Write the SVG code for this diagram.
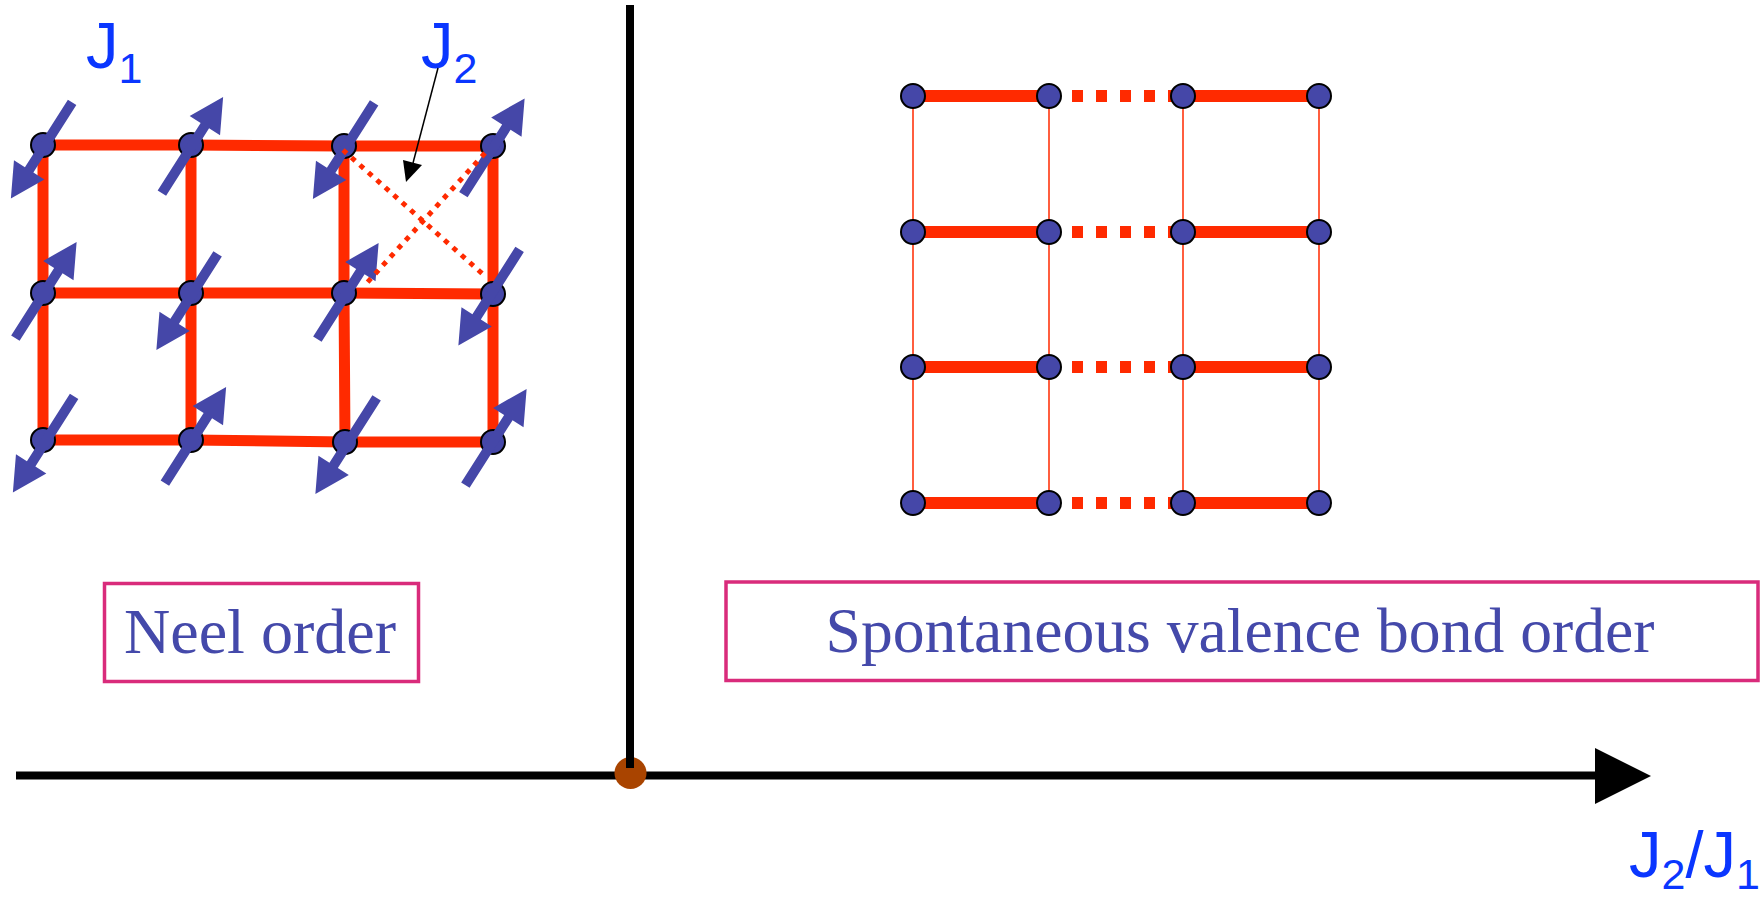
<svg xmlns="http://www.w3.org/2000/svg" xmlns:xlink="http://www.w3.org/1999/xlink" width="1764" height="898" viewBox="0 0 1764 898">
<style>
.bond{stroke:#FF2A00;stroke-width:11;fill:none}
.thick{stroke:#FF2A00;stroke-width:12;fill:none}
.thin{stroke:#FF2A00;stroke-width:1.5;fill:none}
.dash{stroke:#FF2A00;stroke-width:12;fill:none;stroke-dasharray:11 13}
.dot{stroke:#FF2A00;stroke-width:5;fill:none;stroke-dasharray:5 6.3}
.site{fill:#4547A8;stroke:#000;stroke-width:2}
.spin{fill:#4547A8}
.jl{font-family:"Liberation Sans",Arial,sans-serif;fill:#0A36FF;font-size:65px}
.box{fill:none;stroke:#D92B7B;stroke-width:3.5}
.lbl{font-family:"Liberation Serif","Times New Roman",serif;fill:#4449AA;font-size:64px}
.axis{stroke:#000;stroke-width:8;fill:none}
</style>
<defs>
<path id="spin" d="M-57,-5 H23 V-18 L57,0 L23,18 V5 H-57 Z"/>
</defs>
<rect width="1764" height="898" fill="#fff"/>

<g id="axes">
<line class="axis" x1="16" y1="775.5" x2="1597" y2="775.5"/>
<polygon points="1595,748 1651,776 1595,804" fill="#000"/>
<circle id="critical-point" cx="630.5" cy="773" r="16" fill="#A94400"/>
<line class="axis" x1="630" y1="5" x2="630" y2="768"/>
</g>

<g id="neel-bonds">
<path class="bond" d="M43,145 L191,145 L344,146 L493,146"/>
<path class="bond" d="M43,293 L191,293 L344,293 L493,294"/>
<path class="bond" d="M43,440 L191,440 L345,442 L493,442"/>
<path class="bond" d="M43,145 V440"/>
<path class="bond" d="M191,145 V440"/>
<path class="bond" d="M344,146 L344,293 L345,442"/>
<path class="bond" d="M493,146 L493,294 L493,442"/>
</g>

<g id="neel-sites">
<g id="n11"><circle class="site" cx="43" cy="145" r="12"/><use href="#spin" class="spin" transform="translate(41.5,150.5) rotate(122.5)"/></g>
<g id="n12"><circle class="site" cx="191" cy="145" r="12"/><use href="#spin" class="spin" transform="translate(192.5,145) rotate(-57.5)"/></g>
<g id="n13"><circle class="site" cx="344" cy="146" r="12"/><use href="#spin" class="spin" transform="translate(343.5,151) rotate(122.5)"/></g>
<g id="n14"><circle class="site" cx="493" cy="146" r="12"/><use href="#spin" class="spin" transform="translate(494,146.5) rotate(-57.5)"/></g>
<g id="n21"><circle class="site" cx="43" cy="293" r="12"/><use href="#spin" class="spin" transform="translate(46,290) rotate(-57.5)"/></g>
<g id="n22"><circle class="site" cx="191" cy="293" r="12"/><use href="#spin" class="spin" transform="translate(187,302) rotate(122.5)"/></g>
<g id="n23"><circle class="site" cx="344" cy="293" r="12"/><use href="#spin" class="spin" transform="translate(348,291) rotate(-57.5)"/></g>
<g id="n24"><circle class="site" cx="493" cy="294" r="12"/><use href="#spin" class="spin" transform="translate(489,297.5) rotate(122.5)"/></g>
<g id="n31"><circle class="site" cx="43" cy="440" r="12"/><use href="#spin" class="spin" transform="translate(43.5,444.5) rotate(122.5)"/></g>
<g id="n32"><circle class="site" cx="191" cy="440" r="12"/><use href="#spin" class="spin" transform="translate(195.5,435) rotate(-57.5)"/></g>
<g id="n33"><circle class="site" cx="345" cy="442" r="12"/><use href="#spin" class="spin" transform="translate(346,446) rotate(122.5)"/></g>
<g id="n34"><circle class="site" cx="493" cy="442" r="12"/><use href="#spin" class="spin" transform="translate(496,437) rotate(-57.5)"/></g>
</g>

<g id="j2-bonds">
<line class="dot" x1="343" y1="150" x2="485" y2="276"/>
<line class="dot" x1="485" y1="153" x2="365" y2="285"/>
</g>

<g id="label-j1"><text class="jl" x="86" y="68">J<tspan font-size="43" dy="15">1</tspan></text></g>
<g id="label-j2">
<text class="jl" x="421" y="68">J<tspan font-size="43" dy="15">2</tspan></text>
<line x1="438" y1="68" x2="413" y2="163" stroke="#000" stroke-width="1.5"/>
<polygon points="406,182 403,160 422,165" fill="#000"/>
</g>

<g id="vbs-bonds">
<path class="thin" d="M913,96 V503 M1049,96 V503 M1183,96 V503 M1319,96 V503"/>
<path class="thick" d="M913,96 H1049 M1183,96 H1319 M913,232 H1049 M1183,232 H1319 M913,367 H1049 M1183,367 H1319 M913,503 H1049 M1183,503 H1319"/>
<path class="dash" d="M1072,96 H1182 M1072,232 H1182 M1072,367 H1182 M1072,503 H1182"/>
</g>

<g id="vbs-sites">
<g id="v11"><circle class="site" cx="913" cy="96" r="12"/></g>
<g id="v12"><circle class="site" cx="1049" cy="96" r="12"/></g>
<g id="v13"><circle class="site" cx="1183" cy="96" r="12"/></g>
<g id="v14"><circle class="site" cx="1319" cy="96" r="12"/></g>
<g id="v21"><circle class="site" cx="913" cy="232" r="12"/></g>
<g id="v22"><circle class="site" cx="1049" cy="232" r="12"/></g>
<g id="v23"><circle class="site" cx="1183" cy="232" r="12"/></g>
<g id="v24"><circle class="site" cx="1319" cy="232" r="12"/></g>
<g id="v31"><circle class="site" cx="913" cy="367" r="12"/></g>
<g id="v32"><circle class="site" cx="1049" cy="367" r="12"/></g>
<g id="v33"><circle class="site" cx="1183" cy="367" r="12"/></g>
<g id="v34"><circle class="site" cx="1319" cy="367" r="12"/></g>
<g id="v41"><circle class="site" cx="913" cy="503" r="12"/></g>
<g id="v42"><circle class="site" cx="1049" cy="503" r="12"/></g>
<g id="v43"><circle class="site" cx="1183" cy="503" r="12"/></g>
<g id="v44"><circle class="site" cx="1319" cy="503" r="12"/></g>
</g>

<g id="neel-label">
<rect class="box" x="104.5" y="583.5" width="314" height="98"/>
<text class="lbl" x="124" y="653" textLength="272" lengthAdjust="spacingAndGlyphs">Neel order</text>
</g>

<g id="vbs-label">
<rect class="box" x="726" y="582" width="1032" height="98.5"/>
<text class="lbl" x="825.5" y="652" textLength="829" lengthAdjust="spacingAndGlyphs">Spontaneous valence bond order</text>
</g>

<g id="axis-label"><text class="jl" x="1629" y="877">J<tspan font-size="43" dy="12">2</tspan><tspan dy="-12">/J</tspan><tspan font-size="43" dy="12">1</tspan></text></g>
</svg>
